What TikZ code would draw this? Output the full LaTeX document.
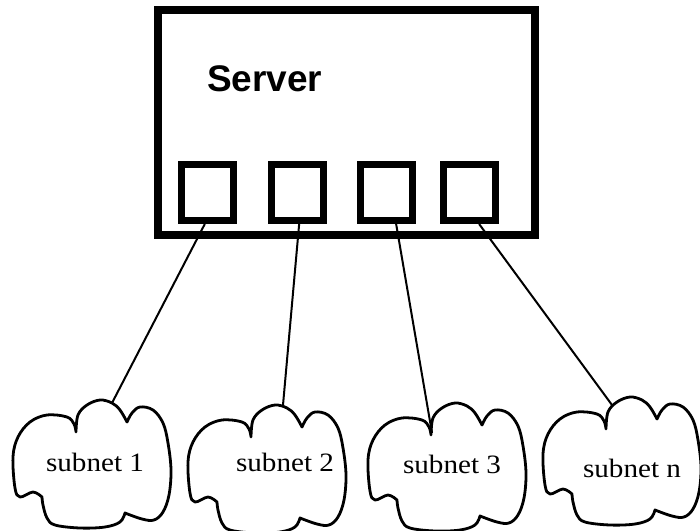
\documentclass[tikz,border=0pt]{standalone}
\usepackage{fontspec}
\newfontfamily\subfont{Liberation Serif}[FakeStretch=1.1]
\newfontfamily\srvfont{Liberation Sans}
\usetikzlibrary{calc,backgrounds}
\tikzset{
  boxline/.style={draw=black, line width=8pt},
  portbox/.style={draw=black, fill=white, line width=7pt, rectangle, minimum width=52pt, minimum height=56pt, inner sep=0pt},
  wire/.style={draw=black, line width=2pt},
  cloudline/.style={draw=black, line width=2.8pt, line join=round},
  lbl/.style={font=\subfont\fontsize{26.5}{29}\selectfont, anchor=base, inner sep=0pt},
}
\newcommand{\mycloud}[1]{%
  \draw[cloudline, shift={#1}]
    plot[smooth, tension=0.6] coordinates {(-16,-33) (-14,-50) (-5,-60) (8,-65) (20,-62) (28,-55) (35,-43)}
    -- plot[smooth, tension=0.6] coordinates {(35,-43) (40,-52) (48,-58) (61,-55) (71,-42) (76,-22) (79,5) (77,30) (71,47) (62,55) (50,54) (33,48)}
    -- plot[smooth, tension=0.6] coordinates {(33,48) (28,57) (13,62) (-12,63) (-37,60) (-45,53) (-49,40) (-50,32)}
    -- plot[smooth, tension=0.6] coordinates {(-50,32) (-59,27) (-72,32) (-77,23) (-79,-8) (-74,-28) (-62,-43) (-45,-50) (-25,-48) (-18,-41) (-16,-33)}
    -- cycle;}
\begin{document}
\begin{tikzpicture}[x=1pt, y=-1pt]
\useasboundingbox (0,0) rectangle (700,530);
\clip (0,0) rectangle (700,530);

% server box
\node[boxline, rectangle, minimum width=376.5pt, minimum height=225pt, inner sep=0pt] (server) at (346.25,122.5) {};
\node[font=\srvfont\bfseries\fontsize{37}{40}\selectfont, anchor=base west, inner sep=0pt] (srvlabel) at (207,91) {Server};

% ports
\node[portbox] (p1) at (207,192.5) {};
\node[portbox] (p2) at (297.5,192.5) {};
\node[portbox] (p3) at (386.5,192.5) {};
\node[portbox] (p4) at (469.5,192.5) {};

% cloud attach points
\coordinate (c1) at (112,403);
\coordinate (c2) at (283,405);
\coordinate (c3) at (432,433);
\coordinate (c4) at (612,405);

% wires
\begin{scope}[on background layer]
\draw[wire] (p1.-94) -- (c1);
\draw[wire] (p2.-87) -- (c2);
\draw[wire] (p3.-73) -- (c3);
\draw[wire] (p4.-73) -- (c4);
\end{scope}

% clouds
\mycloud{(92,465)}
\mycloud{(267,470)}
\mycloud{(447,468)}
\mycloud{(622,462)}

\node[lbl] (s1) at (95,471) {subnet 1};
\node[lbl] (s2) at (285,471) {subnet 2};
\node[lbl] (s3) at (452,473) {subnet 3};
\node[lbl] (sn) at (632,477) {subnet n};
\end{tikzpicture}
\end{document}
